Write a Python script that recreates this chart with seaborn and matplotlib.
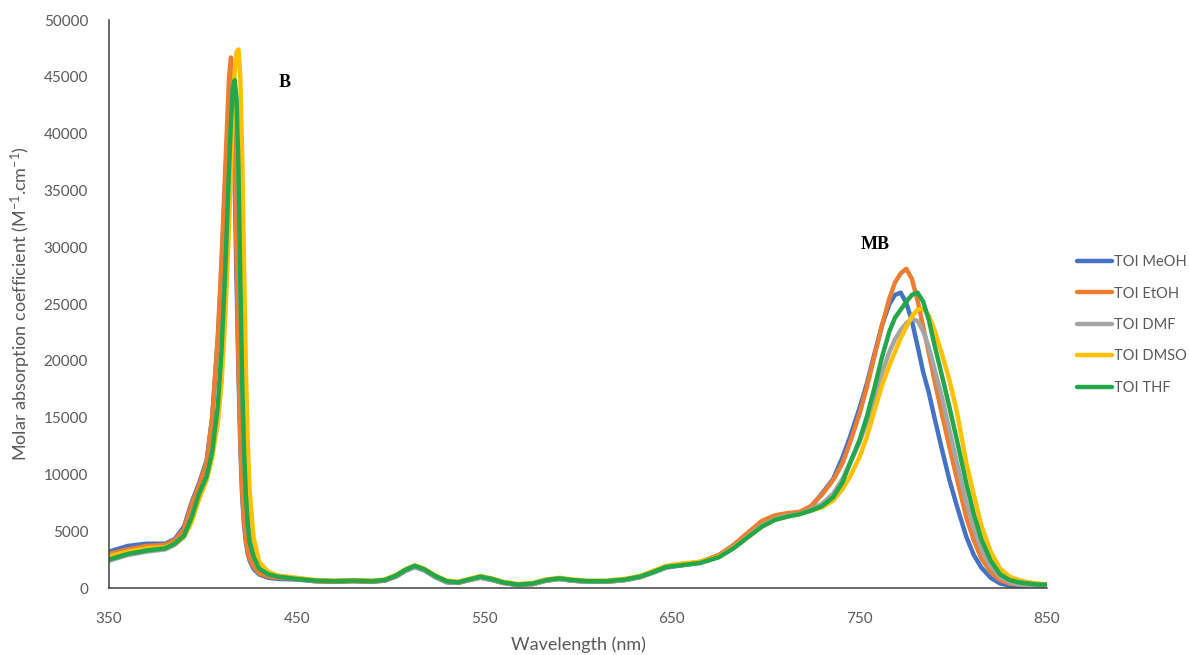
import matplotlib
matplotlib.use("Agg")
import matplotlib.pyplot as plt
import seaborn as sns
import pandas as pd

# ---------------- data ----------------
wavelength = [350, 360, 370, 380, 385, 390, 394, 398, 402, 405, 408, 410, 412, 414, 415, 416, 417, 418, 419, 420,
              421, 422, 423, 424, 425, 427, 430, 435, 440,
              450, 460, 470, 480, 490, 497, 503, 508, 513, 518, 524, 530, 536, 542, 548, 554, 560, 568, 576, 583,
              590, 597, 605, 615, 625, 633, 640, 647, 655, 665, 675, 683, 690, 698, 705, 712, 718, 724,
              730, 736, 741, 745, 750, 754, 758, 762, 766, 769, 772, 775, 778, 781, 784, 787, 790, 794, 798, 802,
              807, 811, 815, 820, 825, 830, 835, 840, 845, 850]

meoh = [3200, 3700, 3900, 3900, 4300, 5400, 7500, 9200, 11200, 15000, 22000, 28000, 36000, 42500, 44000, 42000,
        36000, 27000, 19000, 12500, 8000, 5500, 4000, 3000, 2400, 1700, 1200, 900, 800,
        750, 600, 550, 600, 550, 650, 1000, 1500, 1850, 1550, 950, 500, 450, 700, 900, 700, 450, 250, 350, 650,
        800, 650, 550, 550, 700, 950, 1350, 1800, 2000, 2250, 2850, 3750, 4700, 5800, 6300, 6500, 6600, 7100,
        8300, 9600, 11500, 13300, 15800, 18000, 20600, 23100, 25000, 25800, 26000, 25100, 23500, 21300, 19000,
        17200, 15000, 12200, 9500, 7200, 4500, 2900, 1800, 900, 400, 200, 100, 100, 100, 100]

etoh = [3000, 3400, 3700, 3800, 4200, 5200, 7300, 9000, 11000, 15000, 22000, 29000, 37000, 45000, 46700, 45000,
        39000, 29000, 20000, 13000, 8500, 5800, 4200, 3200, 2600, 1900, 1300, 1000, 900,
        800, 600, 550, 600, 550, 650, 1050, 1550, 1900, 1600, 1000, 550, 450, 700, 950, 750, 450, 300, 350, 650,
        800, 650, 550, 550, 700, 950, 1400, 1850, 2050, 2300, 2900, 3800, 4800, 5900, 6400, 6600, 6700, 7200,
        8200, 9500, 11000, 12800, 15300, 17700, 20400, 23100, 25500, 26900, 27700, 28100, 27200, 25300, 23000,
        20700, 18300, 15300, 12400, 9600, 6200, 4200, 2600, 1400, 700, 400, 300, 200, 200, 200]

dmf = [2400, 2900, 3200, 3400, 3800, 4500, 6000, 8100, 9600, 11800, 15500, 20000, 27000, 35000, 39000, 42000,
       43000, 41500, 36000, 27000, 18500, 12500, 8500, 6000, 4300, 3000, 1800, 1200, 1000,
       850, 650, 600, 650, 600, 700, 1050, 1550, 1850, 1550, 1000, 550, 450, 700, 900, 750, 450, 300, 350, 650,
       800, 650, 550, 550, 700, 950, 1350, 1800, 2000, 2200, 2750, 3600, 4500, 5500, 6100, 6400, 6500, 6900,
       7400, 8300, 9600, 11000, 12800, 14600, 16700, 18900, 20800, 21900, 22700, 23300, 23700, 23500, 22600,
       21200, 19300, 16800, 13900, 11000, 7500, 5300, 3400, 1900, 1000, 500, 300, 200, 200, 200]

dmso = [2800, 3200, 3500, 3600, 3900, 4500, 5800, 7800, 9500, 11500, 14500, 18000, 24000, 32000, 37000, 42000,
        45500, 47200, 47400, 45000, 38000, 28000, 19000, 12500, 8500, 4500, 2300, 1400, 1100,
        900, 700, 650, 700, 650, 750, 1150, 1650, 2000, 1700, 1100, 650, 550, 800, 1050, 850, 550, 350, 450, 750,
        900, 750, 650, 650, 800, 1050, 1500, 1950, 2150, 2300, 2750, 3550, 4400, 5400, 6000, 6300, 6500, 6800,
        7100, 7700, 8700, 9800, 11500, 13300, 15600, 17800, 19600, 20800, 22000, 23000, 23900, 24500, 24600,
        24000, 22700, 20600, 18300, 15500, 11000, 8200, 5500, 3200, 1700, 1000, 700, 500, 400, 300]

thf = [2500, 3000, 3300, 3500, 3900, 4600, 6200, 8300, 9800, 12000, 16000, 21000, 28000, 37000, 41000, 44000,
       44700, 43000, 37000, 27000, 18000, 12000, 8000, 5500, 4000, 2800, 1700, 1200, 1000,
       800, 650, 600, 650, 600, 700, 1100, 1600, 1950, 1650, 1050, 600, 500, 750, 1000, 800, 500, 300, 400, 700,
       850, 700, 600, 600, 750, 1000, 1400, 1850, 2000, 2200, 2700, 3500, 4400, 5400, 6000, 6300, 6500, 6800,
       7200, 8000, 9300, 11000, 13000, 15100, 17600, 20300, 22600, 23800, 24500, 25200, 25800, 26000, 25200,
       23600, 21400, 18700, 15900, 13000, 9200, 6500, 4300, 2400, 1200, 700, 500, 400, 300, 300]

series_names = ["TOI MeOH", "TOI EtOH", "TOI DMF", "TOI DMSO", "TOI THF"]
series_values = [meoh, etoh, dmf, dmso, thf]
colors = ["#4472C4", "#ED7D31", "#A5A5A5", "#FFC000", "#22A84A"]

x_ticks = [350, 450, 550, 650, 750, 850]
y_ticks = [0, 5000, 10000, 15000, 20000, 25000, 30000, 35000, 40000, 45000, 50000]

annotations = [("B", 443.5, 44500), ("MB", 758.5, 30200)]

# ---------------- build long table ----------------
frames = []
for name, vals in zip(series_names, series_values):
    frames.append(pd.DataFrame({"Wavelength": wavelength, "Value": vals, "Series": name}))
df = pd.concat(frames, ignore_index=True)

# ---------------- plot ----------------
sns.set_theme(style="white")
plt.rcParams["font.family"] = ["Lato", "DejaVu Sans"]
plt.rcParams["mathtext.default"] = "regular"

W, H = 1189, 655
fig = plt.figure(figsize=(W / 100, H / 100), dpi=100)
ax = fig.add_axes([109 / W, 1 - 588 / H, (1047 - 109) / W, (588 - 20) / H])

sns.lineplot(data=df, x="Wavelength", y="Value", hue="Series", hue_order=series_names,
             palette=colors, linewidth=3.2, estimator=None, ax=ax, legend=True)

ax.set_xlim(350, 850)
ax.set_ylim(0, 50000)
ax.set_xticks(x_ticks)
ax.set_yticks(y_ticks)
ax.set_xticklabels([str(t) for t in x_ticks])
ax.set_yticklabels([str(t) for t in y_ticks])

label_color = "#595959"
ax.tick_params(axis="both", length=0, labelsize=11, colors=label_color)
ax.tick_params(axis="y", pad=15)
ax.tick_params(axis="x", pad=17)

for side in ["top", "right"]:
    ax.spines[side].set_visible(False)
for side in ["left", "bottom"]:
    ax.spines[side].set_color("#404040")
    ax.spines[side].set_linewidth(1.1)

ax.set_xlabel("Wavelength (nm)", fontsize=13, color=label_color, labelpad=8)
ax.set_ylabel("Molar absorption coefficient (M$^{-1}$.cm$^{-1}$)", fontsize=13, color=label_color, labelpad=8)

for txt, xv, yv in annotations:
    ax.text(xv, yv, txt, fontsize=13, fontweight="bold", family="Liberation Serif",
            ha="center", va="center", color="black")

handles, labels = ax.get_legend_handles_labels()
ax.legend_.remove()
leg = fig.legend(handles, labels, loc="upper left", bbox_to_anchor=(1077 / W, 1 - 255 / H),
                 frameon=False, fontsize=10.5, handlelength=2.4, handletextpad=0.15,
                 labelspacing=1.2, borderpad=0, borderaxespad=0)
for t in leg.get_texts():
    t.set_color(label_color)
for l in leg.get_lines():
    l.set_linewidth(3.2)

fig.savefig("out.png", dpi=100)
